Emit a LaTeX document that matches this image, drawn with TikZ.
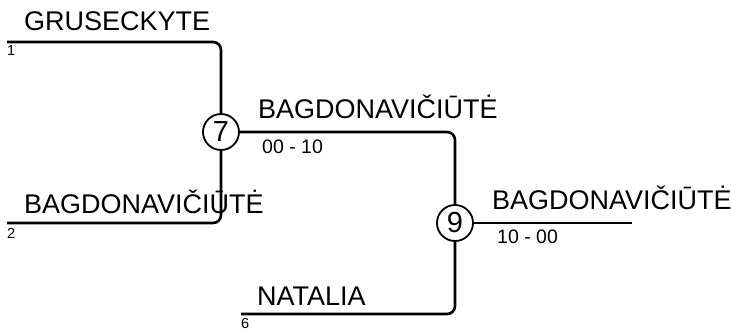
\documentclass[tikz,border=0pt]{standalone}
\usepackage{fontspec}
\setmainfont{Liberation Sans}
\usetikzlibrary{positioning}

\begin{document}
\begin{tikzpicture}[
    x=1pt,
    y=-1pt,
    every node/.style={inner sep=0pt},
    linija/.style={
        draw=black,
        line width=2.6pt,
        rounded corners=8pt
    },
    rungtynes/.style={
        draw=black,
        line width=1.8pt,
        circle,
        fill=white,
        minimum size=36pt,
        font=\fontsize{29}{31}\selectfont
    },
    vardas/.style={
        anchor=base west,
        font=\fontsize{27}{30}\selectfont
    },
    rezultatas/.style={
        anchor=base west,
        font=\fontsize{19.5}{21}\selectfont
    },
    numeris/.style={
        anchor=base west,
        font=\fontsize{14.5}{16}\selectfont
    }
]

\useasboundingbox (0,0) rectangle (731,329);

% ============================================================
% RUNGTYNES
% ============================================================

\node[rungtynes] (m7) at (221,132) {7};
\node[rungtynes] (m9) at (455,223) {9};

% Laisvi linijų galai
\coordinate (p1) at (7,42);
\coordinate (p2) at (7,223);
\coordinate (p6) at (241,314);
\coordinate (p9) at (632,223);

% ============================================================
% LINIJOS
% ============================================================

\draw[linija] (p1) -| (m7);
\draw[linija] (p2) -| (m7);
\draw[linija] (m7) -| (m9);
\draw[linija] (p6) -| (m9);
\draw[linija] (m9) -- (p9);

% ============================================================
% ZAIDEJAI
% ============================================================

\node[vardas] (v1) at (24,31) {GRUSECKYTE};
\node[numeris] (n1) at (7,56) {1};

\node[vardas] (v2) at (24,213) {BAGDONAVIČIŪTĖ};
\node[numeris] (n2) at (7,238) {2};

\node[vardas] (v6) at (257,305) {NATALIA};
\node[numeris] (n6) at (241,328.5) {6};

% Nugaletojai
\node[vardas] (v7) at (258,118) {BAGDONAVIČIŪTĖ};
\node[rezultatas] (r7) at (262,153) {00 - 10};

\node[vardas] (v9) at (492,209) {BAGDONAVIČIŪTĖ};
\node[rezultatas] (r9) at (497,243) {10 - 00};

\end{tikzpicture}
\end{document}
